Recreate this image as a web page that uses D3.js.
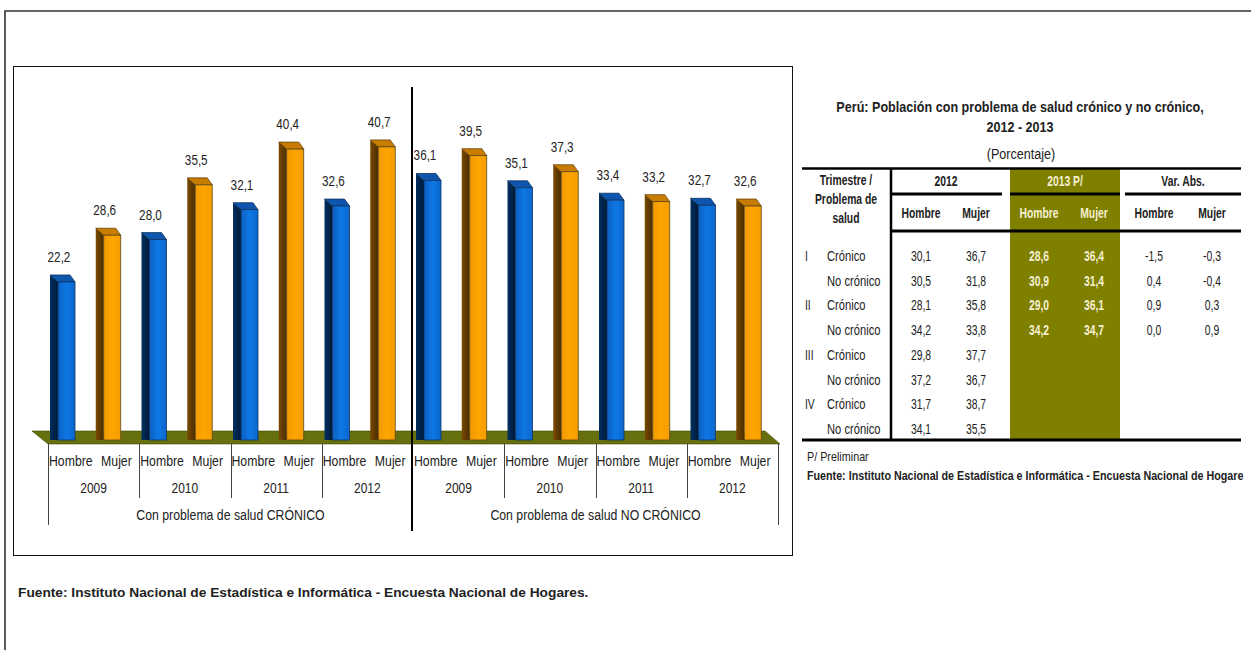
<!DOCTYPE html>
<html><head><meta charset="utf-8">
<script src="https://cdn.jsdelivr.net/npm/d3@7"></script>
<style>
html,body{margin:0;padding:0;background:#fff;overflow:hidden}
svg{display:block}
text{font-family:"Liberation Sans",Arial,sans-serif;fill:#222}
</style></head><body>
<svg id="c" width="1251" height="650"></svg>
<script>
const genders=["Hombre","Mujer"];
const years=["2009","2010","2011","2012"];
const groups=["Con problema de salud CRÓNICO","Con problema de salud NO CRÓNICO"];
const cronicoValues=[22.2,28.6,28.0,35.5,32.1,40.4,32.6,40.7];
const noCronicoValues=[36.1,39.5,35.1,37.3,33.4,33.2,32.7,32.6];

const tableTitle=["Perú: Población con problema de salud crónico y no crónico,","2012 - 2013"];
const tableUnit="(Porcentaje)";
const quarters=["I","","II","","III","","IV",""];
const problems=["Crónico","No crónico","Crónico","No crónico","Crónico","No crónico","Crónico","No crónico"];
const t2012H=["30,1","30,5","28,1","34,2","29,8","37,2","31,7","34,1"];
const t2012M=["36,7","31,8","35,8","33,8","37,7","36,7","38,7","35,5"];
const t2013H=["28,6","30,9","29,0","34,2"];
const t2013M=["36,4","31,4","36,1","34,7"];
const varH=["-1,5","0,4","0,9","0,0"];
const varM=["-0,3","-0,4","0,3","0,9"];
const sourceText="Fuente: Instituto Nacional de Estadística e Informática - Encuesta Nacional de Hogares.";
const sourceTextCut="Fuente: Instituto Nacional de Estadística e Informática - Encuesta Nacional de Hogare";

const svg=d3.select("#c");
const defs=svg.append("defs");
function grad(id,stops){const g=defs.append("linearGradient").attr("id",id);
  stops.forEach((c,i)=>g.append("stop").attr("offset",i/(stops.length-1)).attr("stop-color",c));}
grad("fH",["#0a5fc0","#0f78e6","#0a66cc"]);
grad("fM",["#f09a00","#ffa500","#f59d00"]);
grad("sH",["#04305f","#021a38"]);
grad("sM",["#7a4a00","#4a2c00"]);
defs.append("filter").attr("id","soft").append("feGaussianBlur").attr("stdDeviation",0.45);

// narrow text helper: condensed face obtained by horizontal scaling
function put(g,s,xx,yy,o={}){
  return g.append("text").attr("transform",`translate(${xx},${yy}) scale(${o.sx||0.74},1)`)
    .attr("text-anchor",o.a||"middle").attr("font-size",o.s||14)
    .attr("font-weight",o.b?"bold":null).style("fill",o.c||"#222").text(s);
}

// frames
svg.append("path").attr("d","M5,650V11H1251").attr("fill","none").attr("stroke","#333").attr("stroke-width",1.6);
svg.append("rect").attr("x",13.5).attr("y",66.5).attr("width",779).attr("height",489).attr("fill","#fff").attr("stroke","#111");

// scales
const values=cronicoValues.concat(noCronicoValues);
const idx=d3.range(values.length);
const xBar=d3.scaleBand().domain(idx).range([50,782]);
const xTick=d3.scaleBand().domain(idx).range([48,778]);
const y=d3.scaleLinear().domain([0,40.7]).range([444,146.9]);
const dx=8, dy=7, barW=17, bottom=440;
const barLeft=i=>xBar(i)+dx;

// floor
svg.append("polygon").attr("points",[[32,431],[765,431],[780,444],[48,444]].join(" "))
  .attr("fill","#66700f").attr("stroke","#454a00").attr("stroke-width",.6);

// bars
const bars=svg.append("g").attr("filter","url(#soft)").selectAll("g").data(values).join("g");
bars.append("path").attr("d",(d,i)=>{const l=barLeft(i),t=y(d);return `M${l-dx},${t-dy}L${l},${t}L${l},${bottom}L${l-dx},${bottom}Z`;})
  .attr("fill",(d,i)=>i%2?"url(#sM)":"url(#sH)");
bars.append("path").attr("d",(d,i)=>{const l=barLeft(i),t=y(d);return `M${l-dx},${t-dy}L${l+barW-5},${t-dy}L${l+barW},${t}L${l},${t}Z`;})
  .attr("fill",(d,i)=>i%2?"#c87c00":"#0a55ad").attr("stroke",(d,i)=>i%2?"#5a3600":"#04264f").attr("stroke-width",.7);
bars.append("rect").attr("x",(d,i)=>barLeft(i)).attr("y",d=>y(d)).attr("width",barW).attr("height",d=>bottom-y(d))
  .attr("fill",(d,i)=>i%2?"url(#fM)":"url(#fH)").attr("stroke",(d,i)=>i%2?"#5a4a20":"#0a3566").attr("stroke-width",.8);

// value labels
const vl=svg.append("g");
values.forEach((d,i)=>put(vl,d.toFixed(1).replace(".",","),xBar(i)+9,y(d)-20,{s:15,sx:.78}));

// axis labels
const ax=svg.append("g");
values.forEach((v,i)=>put(ax,genders[i%2],xTick(i)+xTick.bandwidth()/2,466,{s:14.8,sx:.83}));
d3.range(8).forEach(k=>{
  const c=xTick(k*2)+xTick.bandwidth();
  put(ax,years[k%4],c,493,{s:14.8,sx:.81});
  if(k!==4) ax.append("line").attr("x1",Math.round(xTick(k*2))+.5).attr("x2",Math.round(xTick(k*2))+.5).attr("y1",444).attr("y2",k%4?498:525).attr("stroke","#444").attr("stroke-width",1);
});
groups.forEach((g,k)=>put(ax,g,xTick(k*8)+4*xTick.bandwidth(),520,{s:14.8,sx:.83}));
ax.append("line").attr("x1",778.5).attr("x2",778.5).attr("y1",444).attr("y2",525).attr("stroke","#444");
svg.append("line").attr("x1",412).attr("x2",412).attr("y1",87).attr("y2",531).attr("stroke","#000").attr("stroke-width",2);

// table
const tb=svg.append("g");
tb.append("rect").attr("x",1010).attr("y",169).attr("width",110).attr("height",270).attr("fill","#7f7f00");
const ln=(a,b,yy,w=3)=>tb.append("line").attr("x1",a).attr("x2",b).attr("y1",yy).attr("y2",yy).attr("stroke","#000").attr("stroke-width",w);
ln(802,1241,168.5,2.5); ln(891,1002,194); ln(1010,1120,194); ln(1125,1241,194); ln(891,1241,231); ln(802,1241,440);
tb.append("line").attr("x1",891).attr("x2",891).attr("y1",168).attr("y2",440).attr("stroke","#000").attr("stroke-width",2.5);
const T=(s,xx,yy,o={})=>put(tb,s,xx,yy,o);
const cream="#f4f0d0";
tableTitle.forEach((s,i)=>T(s,1020,112+i*20,{b:1,s:15,sx:.84}));
T(tableUnit,1021,159,{s:15,sx:.84});
T("Trimestre /",846,185,{b:1}); T("Problema de",846,204,{b:1}); T("salud",846,223,{b:1});
T("2012",946,186,{b:1}); T("2013 P/",1065,186,{b:1,c:cream}); T("Var. Abs.",1183,186,{b:1});
const cols=[921,976,1039,1094,1154,1212];
genders.concat(genders,genders).forEach((g,i)=>T(g,cols[i],218,{b:1,c:(i===2||i===3)?cream:"#222"}));
const rowY=d3.scalePoint().domain(d3.range(8)).range([261,434]);
const numCols=[t2012H,t2012M,t2013H,t2013M,varH,varM];
d3.range(8).forEach(r=>{
  T(quarters[r],805,rowY(r),{a:"start"});
  T(problems[r],827,rowY(r),{a:"start",sx:.8});
  numCols.forEach((col,ci)=>{ if(col[r]) T(col[r],cols[ci],rowY(r),{b:(ci===2||ci===3)?1:0,c:(ci===2||ci===3)?cream:"#222"}); });
});
T("P/ Preliminar",807,461,{a:"start",s:13,sx:.83});
T(sourceTextCut,807,480,{a:"start",b:1,s:13,sx:.825});
T(sourceText,18,597,{a:"start",b:1,s:13.5,sx:1.017});
</script>
</body></html>
